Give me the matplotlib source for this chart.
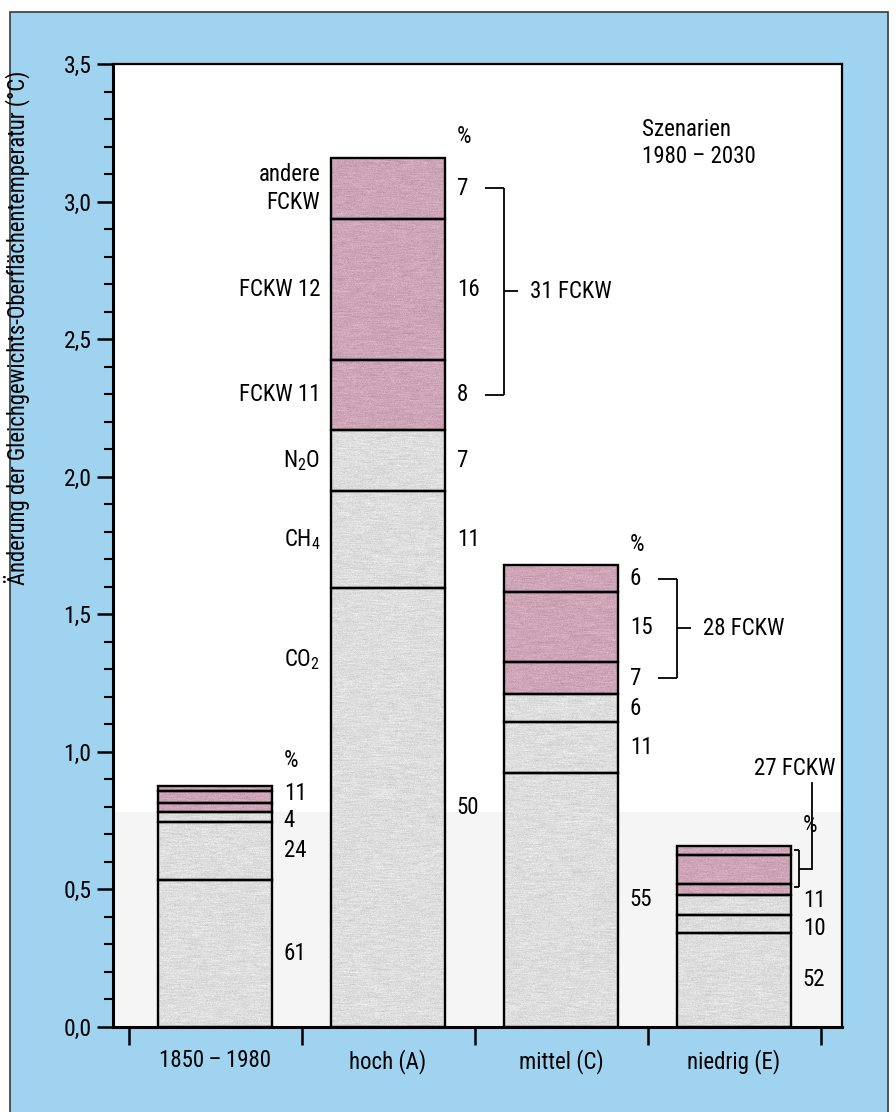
import numpy as np
import matplotlib
matplotlib.use("Agg")
import matplotlib.pyplot as plt
from matplotlib import font_manager as fm
from matplotlib.patches import Rectangle
from matplotlib.ticker import FuncFormatter, MultipleLocator, FixedLocator

# pick a narrow sans-serif face if one is installed
_pref = ["Liberation Sans Narrow", "Roboto Condensed", "DejaVu Sans Condensed",
         "Open Sans Condensed", "Noto Sans Condensed", "Arial Narrow"]
_narrow = [f for f in fm.fontManager.ttflist
           if f.style == "normal" and f.weight in (400, "normal", "regular")
           and ("Narrow" in f.name or "Condensed" in f.name
                or f.stretch in ("condensed", "semi-condensed", "extra-condensed",
                                 "ultra-condensed", 500, 300, 200))]
FONT, STRETCH, NARROW = "Roboto", "normal", False
if _narrow:
    _narrow.sort(key=lambda f: (_pref.index(f.name) if f.name in _pref else 99))
    FONT, STRETCH, NARROW = _narrow[0].name, _narrow[0].stretch, True
if isinstance(STRETCH, (int, float)):
    STRETCH = int(STRETCH)

plt.rcParams["font.family"] = [FONT, "DejaVu Sans"]
plt.rcParams["font.stretch"] = STRETCH
plt.rcParams["mathtext.fontset"] = "custom"
plt.rcParams["mathtext.rm"] = FONT
plt.rcParams["mathtext.it"] = FONT
plt.rcParams["mathtext.bf"] = FONT

# ---- data -------------------------------------------------------------
categories = ["1850\u2009–\u20091980", "hoch (A)", "mittel (C)", "niedrig (E)"]
totals = [0.877, 3.16, 1.68, 0.658]          # total warming (°C)
co2_pct = [61, 50, 55, 52]
ch4_pct = [24, 11, 11, 10]
n2o_pct = [4, 7, 6, 11]
fckw11_pct = [4, 8, 7, 6]
fckw12_pct = [5, 16, 15, 16]
fckw_other_pct = [2, 7, 6, 5]
fckw_sum_pct = [11, 31, 28, 27]

gas_names = ["CO$_2$", "CH$_4$", "N$_2$O", "FCKW 11", "FCKW 12", "andere\nFCKW"]

# ---- style -------------------------------------------------------------
BLUE = "#9fd3ef"
GRAY = np.array([0.85, 0.85, 0.85])
PINK = np.array([0.79, 0.63, 0.70])
K = 1.0 if NARROW else 0.86     # size factor for a normal-width face
FS = 16.5 * K
FS_TICK = 17 * K
FS_YLAB = 16.3 * K

pct = np.array([co2_pct, ch4_pct, n2o_pct, fckw11_pct, fckw12_pct,
                fckw_other_pct], dtype=float)
heights = pct / pct.sum(axis=0) * np.array(totals)
tops = np.cumsum(heights, axis=0)
bottoms = tops - heights
mids = bottoms + heights / 2
seg_colors = [GRAY, GRAY, GRAY, PINK, PINK, PINK]

W, H = 896, 1112
fig = plt.figure(figsize=(W / 100, H / 100), dpi=100)
fig.patch.set_facecolor("white")
fig.add_artist(Rectangle((10 / W, -0.02), (888 - 10) / W, 1.02 - 12 / H,
                         transform=fig.transFigure, facecolor=BLUE,
                         edgecolor="#3a3a3a", linewidth=1.2, zorder=-5))

ax = fig.add_axes([113 / W, 1 - 1027 / H, (842 - 113) / W, (1027 - 64) / H])
ax.set_facecolor("white")
XL, YL = (-0.59, 3.624), (0, 3.5)
ax.set_xlim(*XL)
ax.set_ylim(*YL)
ax.axhspan(0, 0.78, color="#f5f5f5", zorder=0, lw=0)

# printed screen texture: fine grain with soft horizontal streaks
rng = np.random.default_rng(7)
grain = rng.normal(0, 1, (963, 729))
kern = np.ones(9) / 9
streak = np.apply_along_axis(lambda r: np.convolve(r, kern, mode="same"), 1,
                             rng.normal(0, 1, (963, 729)))
shade = 0.035 * grain + 0.09 * streak


def textured(color):
    img = np.clip(color[None, None, :] + shade[:, :, None] * 0.55 +
                  0.02, 0, 1)
    return img


x = np.arange(len(categories))
bw = 0.655
for j in range(pct.shape[0]):
    bars = ax.bar(x, heights[j], bottom=bottoms[j], width=bw,
                  color=seg_colors[j], edgecolor="none", zorder=2)
    tex = textured(seg_colors[j])
    for b in bars:
        im = ax.imshow(tex, extent=(*XL, *YL), aspect="auto", origin="lower",
                       interpolation="nearest", zorder=2.1)
        im.set_clip_path(b)
    ax.bar(x, heights[j], bottom=bottoms[j], width=bw, fill=False,
           edgecolor="black", linewidth=1.7, zorder=2.2)
ax.set_xlim(*XL)
ax.set_ylim(*YL)

# ---- percentage labels ------------------------------------------------
lab_dx = bw / 2 + 0.07
nudge = {(0, 2): -0.012, (3, 2): 0.014, (3, 1): -0.016}
for i in range(len(categories)):
    xl = x[i] + lab_dx
    comps = [0, 1, 2] if i in (0, 3) else range(6)
    for j in comps:
        yv = mids[j, i] + nudge.get((i, j), 0)
        ax.text(xl, yv, f"{int(pct[j, i])}", fontsize=FS, ha="left",
                va="center", zorder=3)
    pct_y = totals[i] + (0.09 if i == 0 else 0.075)
    ax.text(xl, pct_y, "%", fontsize=FS, ha="left", va="center")

# combined FCKW share for the historical bar
ax.text(x[0] + lab_dx, (bottoms[3, 0] + tops[5, 0]) / 2 + 0.02,
        f"{fckw_sum_pct[0]}", fontsize=FS, ha="left", va="center")


def bracket(i, y_lo, y_hi, x_a, x_b, x_t, text, text_dx):
    xr = x[i] + bw / 2
    kw = dict(color="black", lw=1.3, zorder=3, solid_capstyle="butt")
    ax.plot([xr + x_a, xr + x_b], [y_hi, y_hi], **kw)
    ax.plot([xr + x_a, xr + x_b], [y_lo, y_lo], **kw)
    ax.plot([xr + x_b, xr + x_b], [y_lo, y_hi], **kw)
    ym = (y_lo + y_hi) / 2
    ax.plot([xr + x_b, xr + x_t], [ym, ym], **kw)
    if text:
        ax.text(xr + text_dx, ym, text, fontsize=FS, ha="left", va="center")
    return xr + x_t, ym


for i in (1, 2):
    bracket(i, mids[3, i], mids[5, i], 0.235, 0.340, 0.425,
            f"{fckw_sum_pct[i]} FCKW", 0.493)

# low scenario: small bracket with leader line to the label above
xe, ye = bracket(3, mids[3, 3] + 0.01, mids[5, 3], 0.017, 0.046, 0.121, "", 0)
ax.plot([xe, xe], [ye, 0.885], color="black", lw=1.3, zorder=3)
ax.text(xe - 0.097, 0.94, f"{fckw_sum_pct[3]} FCKW", fontsize=FS,
        ha="center", va="center")

# gas names next to the high scenario
xn = x[1] - bw / 2 - 0.064
for j in range(1, 6):
    ax.text(xn, mids[j, 1], gas_names[j], fontsize=FS, ha="right",
            va="center", linespacing=1.25)
ax.text(xn, 1.335, gas_names[0], fontsize=FS, ha="right", va="center")

ax.text(2.468, 3.213, "Szenarien\n1980 – 2030", fontsize=FS, ha="left",
        va="center", linespacing=1.25)

# ---- axes --------------------------------------------------------------
for s in ax.spines.values():
    s.set_linewidth(1.6)
    s.set_color("black")
ax.spines["left"].set_linewidth(2.2)
ax.spines["bottom"].set_linewidth(2.2)

ax.yaxis.set_major_locator(MultipleLocator(0.5))
ax.yaxis.set_minor_locator(MultipleLocator(0.1))
ax.yaxis.set_major_formatter(FuncFormatter(lambda v, p: f"{v:.1f}".replace(".", ",")))
ax.tick_params(axis="y", which="major", length=11.5, width=1.8,
               direction="out", labelsize=FS_TICK, pad=4)
ax.tick_params(axis="y", which="minor", length=6.5, width=1.5,
               direction="out")

ax.xaxis.set_major_locator(FixedLocator([-0.5, 0.5, 1.5, 2.5, 3.5]))
ax.xaxis.set_minor_locator(FixedLocator(x))
ax.xaxis.set_major_formatter(FuncFormatter(lambda v, p: ""))
ax.set_xticks(x, categories, minor=True)
ax.tick_params(axis="x", which="major", length=13, width=1.8, direction="out")
ax.tick_params(axis="x", which="minor", length=0, labelsize=FS, pad=16)

ax.set_ylabel("Änderung der Gleichgewichts-Oberflächentemperatur (°C)",
              fontsize=FS_YLAB)
ax.yaxis.set_label_coords(-0.114, 0.726)

fig.savefig("out.png", dpi=100)
